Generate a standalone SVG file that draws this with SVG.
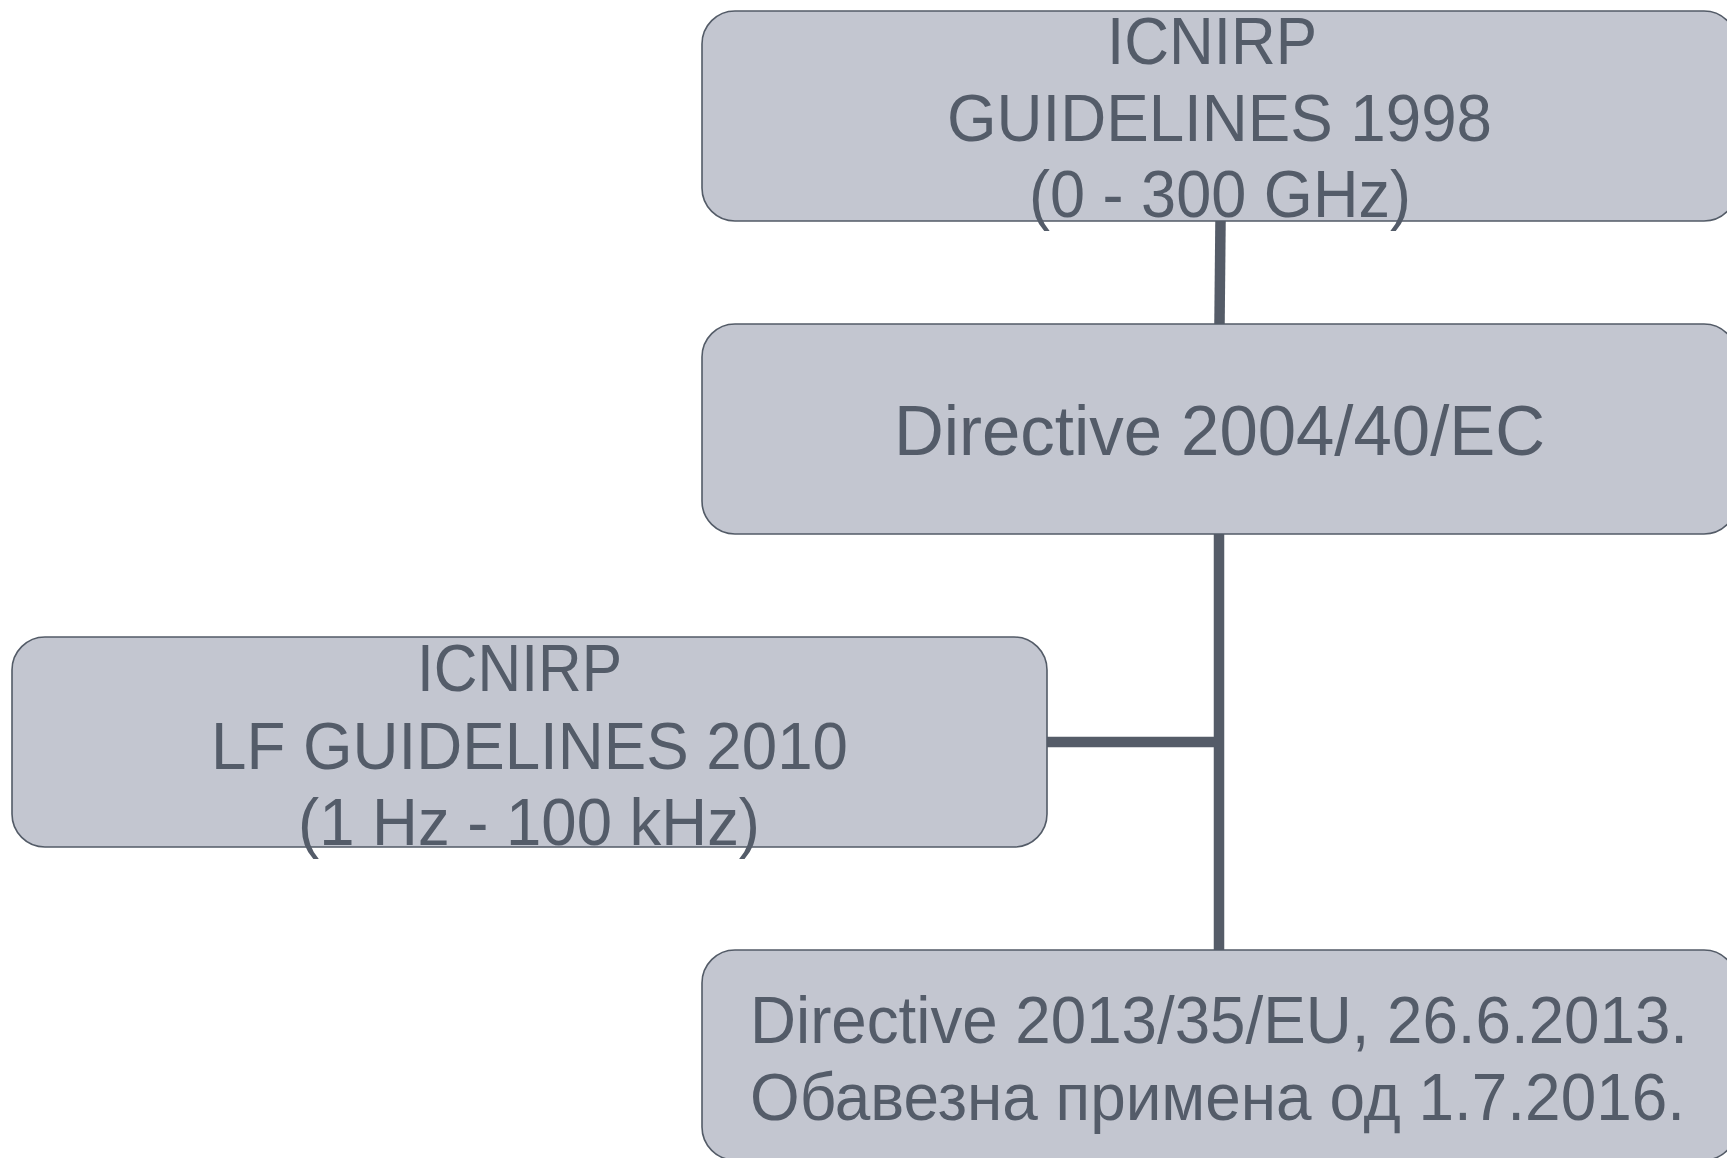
<svg xmlns="http://www.w3.org/2000/svg" width="1727" height="1158" viewBox="0 0 1727 1158">
<style>
.box{fill:#c3c6d0;stroke:#535b67;stroke-width:1.6}
.t{font-family:"Liberation Sans",Arial,"Noto Sans",sans-serif;font-size:66px;fill:#545c69;text-anchor:middle}
.big{font-size:71px}
.conn{stroke:#555c68;stroke-width:10.5;fill:none}
</style>
<rect width="1727" height="1158" fill="#ffffff"/>
<g id="connectors">
<line class="conn" x1="1220.5" y1="221" x2="1219.5" y2="324"/>
<line class="conn" x1="1219" y1="534" x2="1219" y2="950"/>
<line class="conn" x1="1047" y1="742" x2="1219" y2="742"/>
</g>
<g id="n1">
<rect class="box" x="702" y="11" width="1035" height="210" rx="33"/>
<text class="t" x="1212" y="64" textLength="210" lengthAdjust="spacingAndGlyphs">ICNIRP</text>
<text class="t" x="1219.5" y="141" textLength="545" lengthAdjust="spacingAndGlyphs">GUIDELINES 1998</text>
<text class="t" x="1220" y="217" textLength="382" lengthAdjust="spacingAndGlyphs">(0 - 300 GHz)</text>
</g>
<g id="n2">
<rect class="box" x="702" y="324" width="1035" height="210" rx="33"/>
<text class="t big" x="1219.5" y="455" textLength="651" lengthAdjust="spacingAndGlyphs">Directive 2004/40/EC</text>
</g>
<g id="n3">
<rect class="box" x="12" y="637" width="1035" height="210" rx="33"/>
<text class="t" x="519.5" y="691" textLength="205" lengthAdjust="spacingAndGlyphs">ICNIRP</text>
<text class="t" x="529.5" y="769" textLength="637" lengthAdjust="spacingAndGlyphs">LF GUIDELINES 2010</text>
<text class="t" x="529" y="845" textLength="462" lengthAdjust="spacingAndGlyphs">(1 Hz - 100 kHz)</text>
</g>
<g id="n4">
<rect class="box" x="702" y="950" width="1035" height="210" rx="33"/>
<text class="t" x="1219" y="1043" textLength="938" lengthAdjust="spacingAndGlyphs">Directive 2013/35/EU, 26.6.2013.</text>
<text class="t" x="1217.5" y="1120" textLength="935" lengthAdjust="spacingAndGlyphs">Обавезна примена од 1.7.2016.</text>
</g>
</svg>
